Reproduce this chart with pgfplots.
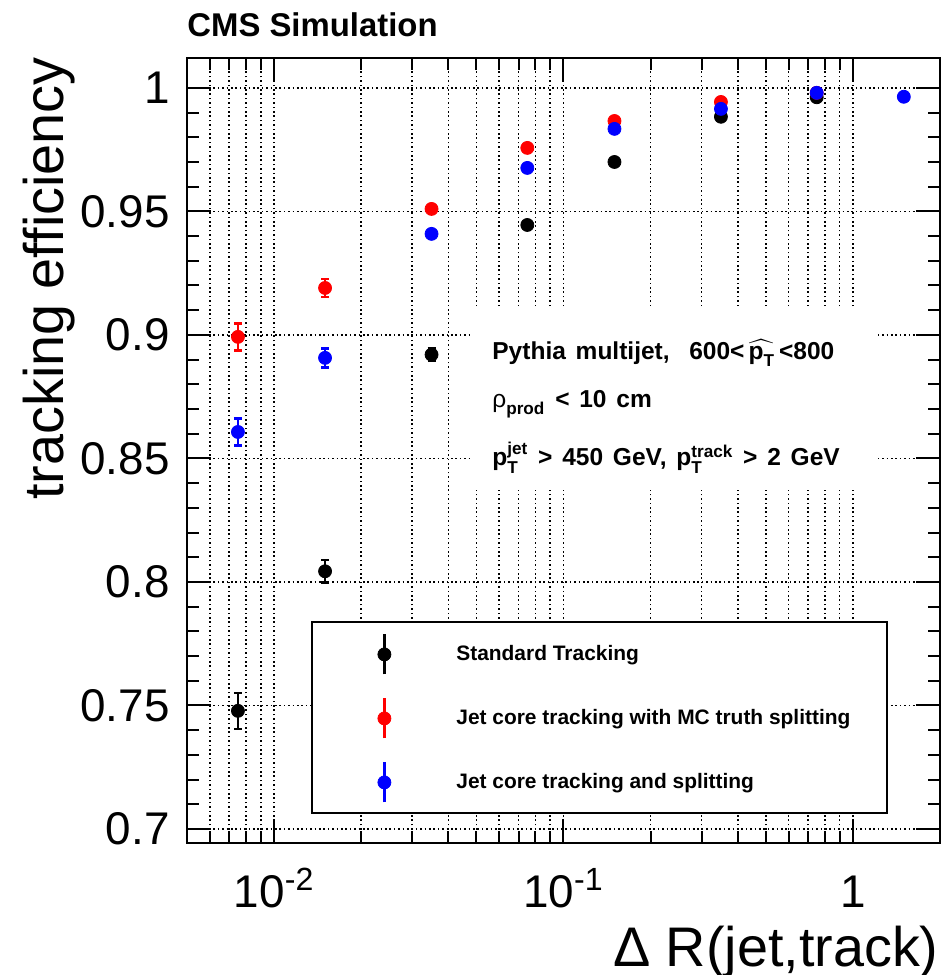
\documentclass[border=0pt]{standalone}
\usepackage{fontspec}
\setmainfont{Liberation Sans}
\usepackage{amsmath}
\usepackage{pgfplots}
\pgfplotsset{compat=1.18}

\definecolor{rootred}{RGB}{255,0,0}
\definecolor{rootblue}{RGB}{0,0,255}

\newcommand{\tickfont}{\fontsize{23}{23}\selectfont}
\newcommand{\labfont}{\fontsize{28}{28}\selectfont}
\newcommand{\txtfont}{\fontsize{12.3}{14}\selectfont\bfseries\spaceskip=0.4em plus 0.1em}

\pgfplotstableread{
x      y       e
0.0075 0.7478  0.0073
0.015  0.8043  0.0045
0.035  0.8920  0.0025
0.075  0.9445  0.0012
0.15   0.9700  0.0008
0.35   0.9883  0.0005
0.75   0.9962  0.0003
}\stdtrk
\pgfplotstableread{
x      y       e
0.0075 0.8992  0.0055
0.015  0.9190  0.0036
0.035  0.9510  0.0015
0.075  0.9757  0.0010
0.15   0.9866  0.0007
0.35   0.9943  0.0004
0.75   0.9980  0.0003
}\mctruth
\pgfplotstableread{
x      y       e
0.0075 0.8607  0.0055
0.015  0.8907  0.0038
0.035  0.9409  0.0015
0.075  0.9676  0.0010
0.15   0.9834  0.0007
0.35   0.9915  0.0004
0.75   0.9980  0.0003
1.5    0.9964  0.0003
}\jetcore

\begin{document}
\begin{tikzpicture}
\path[use as bounding box] (-93.5bp,-66bp) rectangle (379bp,421.5bp);
\begin{axis}[
  at={(0,0)}, anchor=south west,
  scale only axis, width=376.5bp, height=392.5bp,
  clip=false,
  xmode=log, xmin=0.005, xmax=2,
  ymin=0.6943, ymax=1.0121,
  xtick={0.01,0.1,1},
  xticklabels={10\textsuperscript{-2},10\textsuperscript{-1},1},
  minor xtick={0.006,0.007,0.008,0.009,0.02,0.03,0.04,0.05,0.06,0.07,0.08,0.09,
               0.2,0.3,0.4,0.5,0.6,0.7,0.8,0.9,2},
  ytick={0.7,0.75,0.8,0.85,0.9,0.95,1},
  minor y tick num=4,
  xmajorgrids, xminorgrids, ymajorgrids,
  major grid style={black, line width=0.8bp, dash pattern=on 0.8bp off 1.4bp},
  minor grid style={black, line width=0.8bp, dash pattern=on 0.8bp off 1.4bp},
  axis line style={line width=1.2bp},
  every tick/.style={black, line width=1bp},
  major tick length=12bp, minor tick length=6bp,
  /pgf/number format/assume math mode=true,
  yticklabel style={anchor=east, inner sep=0pt, xshift=-8.5bp, font=\tickfont},
  xticklabel style={anchor=base, inner sep=0pt, yshift=-32.5bp, font=\tickfont},
  legend style={at={(rel axis cs:0.166,0.2815)}, anchor=north west,
    draw=none, fill=none, inner sep=0pt, row sep=0pt, column sep=0pt,
    font=\fontsize{10.5}{12}\selectfont\bfseries},
  legend cell align=left,
  error bars/y dir=both, error bars/y explicit,
  error bars/error bar style={line width=1.3bp},
  error bars/error mark options={rotate=90, line width=1.3bp, mark size=2bp},
]
\addplot[forget plot, only marks, black, mark=*, mark size=3.25bp]
  table[x=x, y=y, y error=e] {\stdtrk};
\addplot[forget plot, only marks, rootred, mark=*, mark size=3.25bp]
  table[x=x, y=y, y error=e] {\mctruth};
\addplot[forget plot, only marks, rootblue, mark=*, mark size=3.25bp]
  table[x=x, y=y, y error=e] {\jetcore};

% legend box and the white pad behind the text block
\draw[black, line width=1bp, fill=white]
  (rel axis cs:0.166,0.0382) rectangle (rel axis cs:0.9296,0.2815);
\fill[white] (rel axis cs:0.3785,0.4497) rectangle (rel axis cs:0.9177,0.6828);

\addlegendimage{legend image code/.code={
  \path[draw=none, fill=none] (0bp,-16bp) rectangle (70bp,16bp);
  \draw[black, line width=1.3bp] (36bp,-10bp) -- (36bp,10bp);
  \fill[black] (36bp,0bp) circle (3.25bp);}}
\addlegendentry{Standard Tracking}
\addlegendimage{legend image code/.code={
  \path[draw=none, fill=none] (0bp,-16bp) rectangle (70bp,16bp);
  \draw[rootred, line width=1.3bp] (36bp,-10bp) -- (36bp,10bp);
  \fill[rootred] (36bp,0bp) circle (3.25bp);}}
\addlegendentry{Jet core tracking with MC truth splitting}
\addlegendimage{legend image code/.code={
  \path[draw=none, fill=none] (0bp,-16bp) rectangle (70bp,16bp);
  \draw[rootblue, line width=1.3bp] (36bp,-10bp) -- (36bp,10bp);
  \fill[rootblue] (36bp,0bp) circle (3.25bp);}}
\addlegendentry{Jet core tracking and splitting}
\end{axis}

% titles and labels (1 px of the reference = 0.5 bp)
\node[anchor=base west, inner sep=0pt, font=\fontsize{16.5}{16.5}\selectfont\bfseries]
  at (0bp,403bp) {CMS Simulation};
\node[rotate=90, anchor=north east, inner sep=0pt, font=\labfont]
  at (-82bp,393bp) {tracking efficiency};
\node[anchor=base east, inner sep=0pt, font=\labfont]
  at (376bp,-61.5bp) {Δ R(jet,track)};

% text block
\node[anchor=base west, inner sep=0pt, font=\txtfont] at (152.5bp,241.5bp)
  {Pythia multijet,\ \ 600<\,$\widehat{\text{p}_{\text{T}}}$\,<800};
\node[anchor=base west, inner sep=0pt, font=\txtfont] at (152.5bp,217.5bp)
  {$\text{\mdseries ρ}_{\text{prod}}$ < 10 cm};
\node[anchor=base west, inner sep=0pt, font=\txtfont] at (152.5bp,188.5bp)
  {$\text{p}^{\text{jet}}_{\text{T}}$ > 450 GeV, $\text{p}^{\text{track}}_{\text{T}}$ > 2 GeV};
\end{tikzpicture}
\end{document}
